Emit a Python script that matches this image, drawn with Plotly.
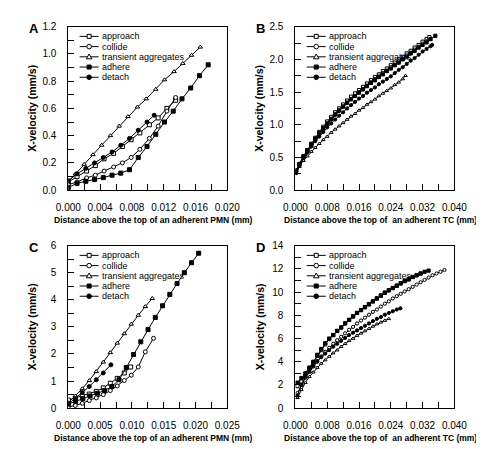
import plotly.graph_objects as go

# ---------------- data ----------------
SERIES = ["approach", "collide", "transient aggregates", "adhere", "detach"]

# Panel A
a_approach_x = [0, 0.0011, 0.0023, 0.0034, 0.0045, 0.0057, 0.0068, 0.0079, 0.0090, 0.0102, 0.0113, 0.0124, 0.0135]
a_approach_y = [0.06, 0.10, 0.14, 0.18, 0.23, 0.27, 0.32, 0.37, 0.42, 0.48, 0.53, 0.60, 0.66]
a_collide_x = [0, 0.0011, 0.0023, 0.0034, 0.0045, 0.0057, 0.0068, 0.0079, 0.0090, 0.0102, 0.0113, 0.0124, 0.0135]
a_collide_y = [0.04, 0.06, 0.09, 0.11, 0.14, 0.17, 0.20, 0.24, 0.30, 0.38, 0.47, 0.58, 0.68]
a_transient_x = [0, 0.0009, 0.0020, 0.0031, 0.0042, 0.0053, 0.0064, 0.0075, 0.0087, 0.0098, 0.0110, 0.0121, 0.0133, 0.0144, 0.0155, 0.0166]
a_transient_y = [0.06, 0.12, 0.19, 0.26, 0.33, 0.40, 0.47, 0.54, 0.61, 0.67, 0.74, 0.81, 0.87, 0.93, 0.99, 1.05]
a_adhere_x = [0, 0.0011, 0.0022, 0.0033, 0.0044, 0.0055, 0.0066, 0.0077, 0.0088, 0.0099, 0.0110, 0.0121, 0.0132, 0.0143, 0.0154, 0.0165, 0.0176]
a_adhere_y = [0.02, 0.05, 0.065, 0.078, 0.092, 0.11, 0.125, 0.15, 0.24, 0.32, 0.41, 0.50, 0.58, 0.67, 0.75, 0.84, 0.92]
a_detach_x = [0, 0.0011, 0.0022, 0.0033, 0.0044, 0.0055, 0.0066, 0.0077, 0.0088, 0.0099, 0.0108]
a_detach_y = [0.07, 0.12, 0.16, 0.20, 0.24, 0.28, 0.33, 0.38, 0.44, 0.50, 0.55]

# Panel B
b_approach_x = [0.0002, 0.001, 0.002, 0.003, 0.004, 0.005, 0.006, 0.007, 0.008, 0.009, 0.010, 0.011, 0.012,
                0.013, 0.014, 0.015, 0.016, 0.017, 0.018, 0.019, 0.020, 0.021, 0.022, 0.023, 0.024, 0.025,
                0.026, 0.027, 0.028, 0.029, 0.030, 0.031, 0.032, 0.033, 0.0337]
b_approach_y = [0.30, 0.40, 0.52, 0.61, 0.71, 0.80, 0.89, 0.97, 1.05, 1.12, 1.19, 1.25, 1.31, 1.37, 1.43,
                1.48, 1.53, 1.58, 1.63, 1.68, 1.73, 1.77, 1.82, 1.86, 1.91, 1.95, 2.00, 2.04, 2.09, 2.13,
                2.18, 2.22, 2.27, 2.31, 2.34]
b_collide_x = [0.0002, 0.001, 0.002, 0.003, 0.004, 0.005, 0.006, 0.007, 0.008, 0.009, 0.010, 0.011, 0.012,
               0.013, 0.014, 0.015, 0.016, 0.017, 0.018, 0.019, 0.020, 0.021, 0.022, 0.023, 0.024, 0.025,
               0.026, 0.027, 0.028, 0.029, 0.030, 0.031, 0.032, 0.033]
b_collide_y = [0.28, 0.37, 0.48, 0.58, 0.67, 0.76, 0.85, 0.93, 1.01, 1.08, 1.15, 1.21, 1.27, 1.33, 1.39,
               1.44, 1.50, 1.55, 1.60, 1.65, 1.70, 1.74, 1.79, 1.83, 1.88, 1.92, 1.97, 2.01, 2.06, 2.10,
               2.15, 2.19, 2.24, 2.28]
b_transient_x = [0.0002, 0.001, 0.002, 0.003, 0.004, 0.005, 0.006, 0.007, 0.008, 0.009, 0.010, 0.011, 0.012,
                 0.013, 0.014, 0.015, 0.016, 0.017, 0.018, 0.019, 0.020, 0.021, 0.022, 0.023, 0.024, 0.025,
                 0.026, 0.027, 0.0277]
b_transient_y = [0.26, 0.36, 0.45, 0.52, 0.59, 0.65, 0.71, 0.77, 0.82, 0.88, 0.93, 0.98, 1.03, 1.08, 1.13,
                 1.17, 1.22, 1.26, 1.31, 1.35, 1.39, 1.44, 1.48, 1.52, 1.56, 1.61, 1.65, 1.70, 1.75]
b_adhere_x = [0.0002, 0.001, 0.002, 0.003, 0.004, 0.005, 0.006, 0.007, 0.008, 0.009, 0.010, 0.011, 0.012,
              0.013, 0.014, 0.015, 0.016, 0.017, 0.018, 0.019, 0.020, 0.021, 0.022, 0.023, 0.024, 0.025,
              0.026, 0.027, 0.028, 0.029, 0.030, 0.031, 0.032, 0.033, 0.034, 0.0352]
b_adhere_y = [0.30, 0.40, 0.51, 0.61, 0.70, 0.79, 0.87, 0.95, 1.02, 1.09, 1.16, 1.22, 1.28, 1.34, 1.39,
              1.44, 1.49, 1.54, 1.59, 1.64, 1.68, 1.73, 1.77, 1.82, 1.86, 1.91, 1.95, 2.00, 2.04, 2.09,
              2.13, 2.18, 2.22, 2.26, 2.31, 2.36]
b_detach_x = [0.0002, 0.001, 0.002, 0.003, 0.004, 0.005, 0.006, 0.007, 0.008, 0.009, 0.010, 0.011, 0.012,
              0.013, 0.014, 0.015, 0.016, 0.017, 0.018, 0.019, 0.020, 0.021, 0.022, 0.023, 0.024, 0.025,
              0.026, 0.027, 0.028, 0.029, 0.030, 0.031, 0.032, 0.033, 0.034, 0.0344]
b_detach_y = [0.26, 0.38, 0.49, 0.58, 0.67, 0.75, 0.82, 0.89, 0.96, 1.02, 1.08, 1.14, 1.19, 1.25, 1.30,
              1.35, 1.40, 1.44, 1.49, 1.53, 1.57, 1.62, 1.66, 1.70, 1.74, 1.79, 1.84, 1.88, 1.93, 1.98,
              2.02, 2.07, 2.12, 2.16, 2.20, 2.22]

# Panel C
c_approach_x = [0, 0.0011, 0.0022, 0.0033, 0.0044, 0.0055, 0.0066, 0.0077, 0.0088, 0.0098]
c_approach_y = [0.30, 0.38, 0.45, 0.52, 0.62, 0.75, 0.92, 1.10, 1.30, 1.52]
c_collide_x = [0, 0.0011, 0.0022, 0.0033, 0.0044, 0.0055, 0.0066, 0.0077, 0.0088, 0.0099, 0.0110, 0.0121, 0.0134]
c_collide_y = [0.05, 0.10, 0.18, 0.28, 0.38, 0.50, 0.65, 0.82, 1.02, 1.22, 1.52, 2.08, 2.58]
c_transient_x = [0, 0.0011, 0.0022, 0.0033, 0.0044, 0.0055, 0.0066, 0.0077, 0.0088, 0.0099, 0.0110, 0.0121, 0.0132]
c_transient_y = [0.20, 0.45, 0.72, 1.02, 1.35, 1.70, 2.05, 2.40, 2.75, 3.10, 3.43, 3.75, 4.05]
c_adhere_x = [0, 0.00114, 0.00228, 0.00342, 0.00456, 0.0057, 0.00684, 0.00798, 0.00912, 0.01026, 0.0114,
              0.01254, 0.01368, 0.01482, 0.01596, 0.0171, 0.01824, 0.01938, 0.0205]
c_adhere_y = [0.15, 0.25, 0.35, 0.45, 0.55, 0.65, 0.80, 1.05, 1.50, 1.98, 2.45, 2.90, 3.35, 3.78, 4.20,
              4.60, 5.00, 5.37, 5.72]
c_detach_x = [0, 0.0011, 0.0022, 0.0033, 0.0044, 0.0055, 0.0067]
c_detach_y = [0.15, 0.35, 0.58, 0.80, 1.05, 1.30, 1.60]

# Panel D
d_approach_x = [0.0005, 0.0015, 0.0025, 0.0035, 0.0045, 0.0055, 0.0065, 0.0075, 0.0085, 0.0095, 0.0105,
                0.0115, 0.0125, 0.0135, 0.0145, 0.0155, 0.0165, 0.0175, 0.0185, 0.0195, 0.0205, 0.0215,
                0.0225, 0.0235, 0.0245, 0.0255, 0.0265, 0.0275, 0.0285, 0.0295, 0.0305, 0.0315]
d_approach_y = [1.9, 2.3, 2.8, 3.4, 3.95, 4.5, 5.0, 5.5, 5.95, 6.3, 6.65, 6.95, 7.3, 7.6, 7.9, 8.2, 8.45,
                8.7, 8.95, 9.2, 9.45, 9.7, 9.95, 10.15, 10.35, 10.55, 10.75, 10.95, 11.1, 11.3, 11.45, 11.6]
d_collide_x = [0.0005, 0.0015, 0.0025, 0.0035, 0.0045, 0.0055, 0.0065, 0.0075, 0.0085, 0.0095, 0.0105,
               0.0115, 0.0125, 0.0135, 0.0145, 0.0155, 0.0165, 0.0175, 0.0185, 0.0195, 0.0205, 0.0215,
               0.0225, 0.0235, 0.0245, 0.0255, 0.0265, 0.0275, 0.0285, 0.0295, 0.0305, 0.0315, 0.0325,
               0.0335, 0.0345, 0.0355, 0.0365, 0.0375]
d_collide_y = [1.3, 2.0, 2.6, 3.1, 3.6, 4.0, 4.45, 4.85, 5.2, 5.55, 5.85, 6.15, 6.45, 6.75, 7.0, 7.3, 7.55,
               7.8, 8.05, 8.3, 8.5, 8.75, 9.0, 9.2, 9.45, 9.65, 9.85, 10.05, 10.25, 10.45, 10.65, 10.85,
               11.05, 11.25, 11.45, 11.6, 11.75, 11.9]
d_transient_x = [0.0005, 0.0015, 0.0025, 0.0035, 0.0045, 0.0055, 0.0065, 0.0075, 0.0085, 0.0095, 0.0105,
                 0.0115, 0.0125, 0.0135, 0.0145, 0.0155, 0.0165, 0.0175, 0.0185, 0.0195, 0.0205, 0.0215,
                 0.0225, 0.0235]
d_transient_y = [0.9, 1.6, 2.2, 2.7, 3.1, 3.5, 3.85, 4.15, 4.45, 4.75, 5.0, 5.3, 5.55, 5.8, 6.0, 6.25, 6.45,
                 6.65, 6.85, 7.05, 7.25, 7.4, 7.55, 7.7]
d_adhere_x = [0.0005, 0.0015, 0.0025, 0.0035, 0.0045, 0.0055, 0.0065, 0.0075, 0.0085, 0.0095, 0.0105,
              0.0115, 0.0125, 0.0135, 0.0145, 0.0155, 0.0165, 0.0175, 0.0185, 0.0195, 0.0205, 0.0215,
              0.0225, 0.0235, 0.0245, 0.0255, 0.0265, 0.0275, 0.0285, 0.0295, 0.0305, 0.0315, 0.0325, 0.0335]
d_adhere_y = [2.2, 2.6, 3.0, 3.5, 4.0, 4.6, 5.1, 5.6, 6.0, 6.3, 6.65, 6.95, 7.3, 7.6, 7.9, 8.2, 8.45, 8.7,
              8.95, 9.2, 9.45, 9.7, 9.95, 10.15, 10.35, 10.55, 10.75, 10.95, 11.1, 11.3, 11.45, 11.6, 11.75, 11.85]
d_detach_x = [0.0005, 0.0015, 0.0025, 0.0035, 0.0045, 0.0055, 0.0065, 0.0075, 0.0085, 0.0095, 0.0105,
              0.0115, 0.0125, 0.0135, 0.0145, 0.0155, 0.0165, 0.0175, 0.0185, 0.0195, 0.0205, 0.0215,
              0.0225, 0.0235, 0.0245, 0.0255, 0.0264]
d_detach_y = [1.1, 2.0, 2.7, 3.2, 3.65, 4.05, 4.4, 4.7, 5.0, 5.3, 5.55, 5.8, 6.05, 6.3, 6.5, 6.7, 6.9, 7.1,
              7.3, 7.5, 7.7, 7.85, 8.05, 8.2, 8.35, 8.5, 8.6]

PANELS = [
    dict(letter="A", series=[(a_approach_x, a_approach_y), (a_collide_x, a_collide_y), (a_transient_x, a_transient_y),
                             (a_adhere_x, a_adhere_y), (a_detach_x, a_detach_y)],
         xrange=[0, 0.020], xdtick=0.004, xminor=0.002, xfmt=".3f",
         yrange=[0, 1.2], ydtick=0.2, yminor=0.1, yfmt=".1f",
         xtitle="Distance above the top of an adherent PMN (mm)"),
    dict(letter="B", series=[(b_approach_x, b_approach_y), (b_collide_x, b_collide_y), (b_transient_x, b_transient_y),
                             (b_adhere_x, b_adhere_y), (b_detach_x, b_detach_y)],
         xrange=[0, 0.040], xdtick=0.008, xminor=0.004, xfmt=".3f",
         yrange=[0, 2.5], ydtick=0.5, yminor=0.25, yfmt=".1f",
         xtitle="Distance above the top of  an adherent TC (mm)"),
    dict(letter="C", series=[(c_approach_x, c_approach_y), (c_collide_x, c_collide_y), (c_transient_x, c_transient_y),
                             (c_adhere_x, c_adhere_y), (c_detach_x, c_detach_y)],
         xrange=[0, 0.025], xdtick=0.005, xminor=0.0025, xfmt=".3f",
         yrange=[0, 6], ydtick=1, yminor=0.5, yfmt="d",
         xtitle="Distance above the top of an adherent PMN (mm)"),
    dict(letter="D", series=[(d_approach_x, d_approach_y), (d_collide_x, d_collide_y), (d_transient_x, d_transient_y),
                             (d_adhere_x, d_adhere_y), (d_detach_x, d_detach_y)],
         xrange=[0, 0.040], xdtick=0.008, xminor=0.004, xfmt=".3f",
         yrange=[0, 14], ydtick=2, yminor=1, yfmt="d",
         xtitle="Distance above the top of  an adherent TC (mm)"),
]

# ---------------- styling ----------------
W, H = 484, 449
FONT = "Liberation Sans, Arial, sans-serif"
SYMBOL = ["square", "circle", "triangle-up", "square", "circle"]
FILL = ["white", "white", "white", "black", "black"]
# frame boxes in pixels: (left, top, right, bottom)
BOXES = [(50, 13, 218, 181), (290, 13, 458, 181), (50, 238, 218, 405), (290, 238, 458, 405)]
MSIZE = [4, 3.2, 4, 3.2]

fig = go.Figure()
layout = dict(width=W, height=H, margin=dict(l=0, r=0, t=0, b=0, pad=0), paper_bgcolor="white",
              plot_bgcolor="white", showlegend=False, font=dict(family=FONT, size=10, color="black"))
annotations = []
shapes = []

def px_x(p):
    return p / W

def px_y(p):
    return 1 - p / H

for i, pnl in enumerate(PANELS):
    n = "" if i == 0 else str(i + 1)
    xa, ya = "x" + n, "y" + n
    l, t, r, b = BOXES[i]
    for k, (xs, ys) in enumerate(pnl["series"]):
        fig.add_trace(go.Scatter(
            x=xs, y=ys, mode="lines+markers", name=SERIES[k], xaxis=xa, yaxis=ya,
            line=dict(color="black", width=1),
            marker=dict(symbol=SYMBOL[k], size=MSIZE[i], color=FILL[k],
                        line=dict(color="black", width=1))))
    common = dict(showline=True, mirror=True, linecolor="black", linewidth=1, showgrid=False,
                  zeroline=False, ticks="inside", ticklen=6, tickcolor="black", tickwidth=1,
                  tickfont=dict(family=FONT, size=10, color="black"))
    layout["xaxis" + n] = dict(common, domain=[px_x(l), px_x(r)], anchor=ya, range=pnl["xrange"],
                               dtick=pnl["xdtick"], tick0=0, tickformat=pnl["xfmt"], ticklabelstandoff=8,
                               minor=dict(ticks="inside", ticklen=6, dtick=pnl["xminor"], tick0=0,
                                          tickcolor="black", showgrid=False))
    layout["yaxis" + n] = dict(common, domain=[px_y(b), px_y(t)], anchor=xa, range=pnl["yrange"],
                               dtick=pnl["ydtick"], tick0=0, tickformat=pnl["yfmt"], ticklabelstandoff=9,
                               minor=dict(ticks="inside", ticklen=6, dtick=pnl["yminor"], tick0=0,
                                          tickcolor="black", showgrid=False))
    # panel letter
    annotations.append(dict(text="<b>%s</b>" % pnl["letter"], x=px_x(l - 44), y=px_y(t - 8),
                            xref="paper", yref="paper", xanchor="left", yanchor="top", showarrow=False,
                            font=dict(family=FONT, size=13)))
    # axis titles
    annotations.append(dict(text="<b>%s</b>" % pnl["xtitle"], x=px_x((l + r) / 2 + 6), y=px_y(b + 31),
                            xref="paper", yref="paper", xanchor="center", yanchor="middle", showarrow=False,
                            font=dict(family=FONT, size=8.5)))
    annotations.append(dict(text="<b>X-velocity (mm/s)</b>", x=px_x(l - 38), y=px_y((t + b) / 2),
                            xref="paper", yref="paper", xanchor="center", yanchor="middle", showarrow=False,
                            textangle=-90, font=dict(family=FONT, size=10.5)))
    # legend (inside, top-left)
    for k, name in enumerate(SERIES):
        yy = t + 10 + 10.5 * k
        shapes.append(dict(type="line", xref="paper", yref="paper", x0=px_x(l + 12), x1=px_x(l + 32),
                           y0=px_y(yy), y1=px_y(yy), line=dict(color="black", width=1)))
        s = 2.0
        if SYMBOL[k] == "square":
            shapes.append(dict(type="rect", xref="paper", yref="paper", xsizemode="pixel", ysizemode="pixel",
                               xanchor=px_x(l + 22), yanchor=px_y(yy), x0=-s, x1=s, y0=-s, y1=s,
                               fillcolor=FILL[k], line=dict(color="black", width=1)))
        elif SYMBOL[k] == "circle":
            shapes.append(dict(type="circle", xref="paper", yref="paper", xsizemode="pixel", ysizemode="pixel",
                               xanchor=px_x(l + 22), yanchor=px_y(yy), x0=-s - 0.3, x1=s + 0.3, y0=-s - 0.3,
                               y1=s + 0.3, fillcolor=FILL[k], line=dict(color="black", width=1)))
        else:
            shapes.append(dict(type="path", xref="paper", yref="paper", xsizemode="pixel", ysizemode="pixel",
                               xanchor=px_x(l + 22), yanchor=px_y(yy), path="M-2.8,-2 L2.8,-2 L0,2.8 Z",
                               fillcolor=FILL[k], line=dict(color="black", width=1)))
        annotations.append(dict(text=name, x=px_x(l + 33), y=px_y(yy), xref="paper", yref="paper",
                                xanchor="left", yanchor="middle", showarrow=False,
                                font=dict(family=FONT, size=9)))

layout["annotations"] = annotations
layout["shapes"] = shapes
fig.update_layout(**layout)
fig.write_html("out.html")
